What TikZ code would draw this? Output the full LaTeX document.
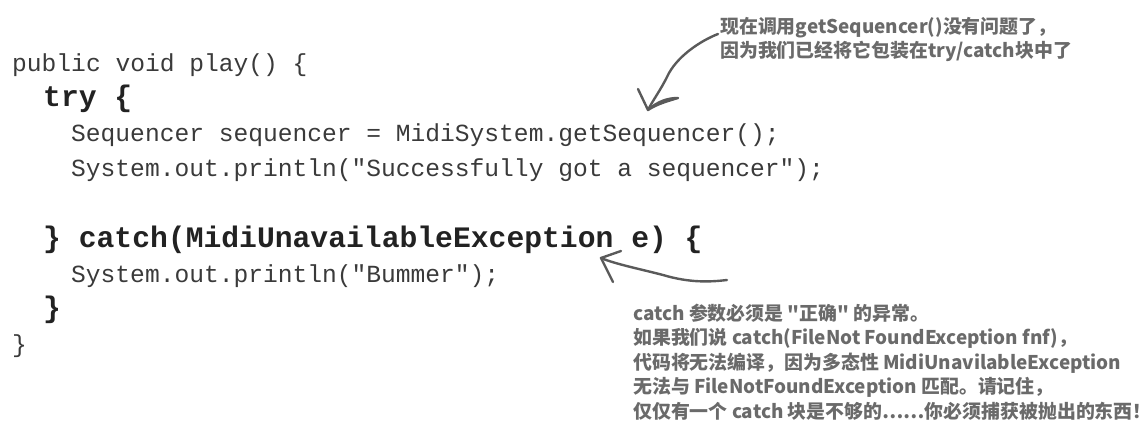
\documentclass[tikz,border=0pt]{standalone}
\usepackage{fontspec}
\setmonofont{Liberation Mono}
\newfontfamily\cjk{Noto Sans CJK SC}
\definecolor{codegray}{HTML}{3A3A3A}
\definecolor{boldgray}{HTML}{222222}
\definecolor{notegray}{HTML}{6A6A6A}
\definecolor{arrowgray}{HTML}{5A5A5A}

\begin{document}
\begin{tikzpicture}[x=1pt,y=-1pt,
  my code/.style={
    anchor=base west, inner sep=0pt, text=codegray,
    font=\ttfamily\fontsize{24.6}{35}\selectfont,
  },
  my bold code/.style={
    my code, text=boldgray,
    font=\ttfamily\bfseries\fontsize{29.7}{35}\selectfont,
  },
  my note/.style={
    anchor=base west, inner sep=0pt, align=left, text=notegray,
    font=\cjk\bfseries\fontsize{18.9}{24.5}\selectfont,
  },
  my arrow/.style={
    draw=arrowgray, line width=2.4pt, line cap=round, line join=round,
  }]
  \useasboundingbox (0,0) rectangle (1141,433);
  % code
  \node [my code] (play) at (12,72) {public void play() \{};
  \node [my bold code] (try) at (43,107) {try \{};
  \node [my code] (seq) at (71,142) {Sequencer sequencer = MidiSystem.getSequencer();};
  \node [my code] (ok) at (71,177) {System.out.println("Successfully got a sequencer");};
  \node [my bold code] (catch) at (43,247) {\} catch(MidiUnavailableException e) \{};
  \node [my code] (bummer) at (71,282) {System.out.println("Bummer");};
  \node [my bold code] (endcatch) at (43,317) {\}};
  \node [my code] (endplay) at (12,352) {\}};
  % notes (base = last line)
  \node [my note] (note1) at (720,58) {现在调用getSequencer()没有问题了，\\因为我们已经将它包装在try/catch块中了};
  \node [my note] (note2) at (633,418) {catch 参数必须是 "正确" 的异常。\\
    如果我们说 catch(FileNot FoundException fnf)，\\
    代码将无法编译，因为多态性 MidiUnavilableException\\
    无法与 FileNotFoundException 匹配。请记住，\\
    仅仅有一个 catch 块是不够的……你必须捕获被抛出的东西！};
  % arrows
  \coordinate (s1) at (718,34);
  \coordinate (t1) at (648,110);
  \draw [my arrow] (s1) .. controls (700,41) and (676,57) .. (667,77)
    .. controls (660,91) and (653,100) .. (t1);
  \draw [my arrow] ([shift={(-10,-21)}]t1) -- (t1)
    .. controls (658,101) and (668,98) .. (678,98)
    .. controls (668,101) and (657,104) .. (t1);
  \coordinate (s2) at (727,280);
  \coordinate (t2) at (601,258);
  \draw [my arrow] (s2) .. controls (710,282) and (690,283) .. (663,275)
    .. controls (640,269) and (615,264) .. (t2);
  \draw [my arrow] ([shift={(20,-7)}]t2) -- (t2) .. controls (606,268) .. (613,282);
\end{tikzpicture}
\end{document}
